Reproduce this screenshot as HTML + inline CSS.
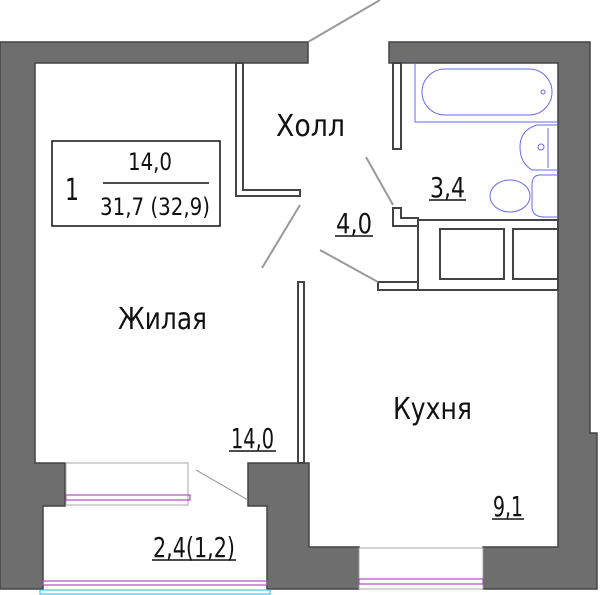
<!DOCTYPE html>
<html><head><meta charset="utf-8"><style>
html,body{margin:0;padding:0;background:#fff;}
svg{display:block}
text{font-family:"DejaVu Sans Condensed","Liberation Sans",sans-serif;fill:#111}
</style></head><body>
<svg width="600" height="595" viewBox="0 0 600 595" xmlns="http://www.w3.org/2000/svg">
<g fill="#6e6e6e" stroke="#444" stroke-width="1.5">
<path d="M0,42 H308 V63 H35 V463 H65 V506 H43 V589 H0 Z"/>
<path d="M389,42 H590 V433 H597 V589 H483 V547 H558 V63 H389 Z"/>
<path d="M248,463 H300 V463 H309 V547 H359 V589 H267 V506 H248 Z"/>
</g>
<g fill="#fff" stroke="#444" stroke-width="2">
<path d="M236,63 V196 H300 V190 H243 V63 Z"/>
<path d="M298,282 H304 V463 H298 Z"/>
<rect x="393" y="63" width="8" height="86"/>
<path d="M393,208 H401 V218 H418 V226 H393 Z"/>
<path d="M378,282 H418 V290 H378 Z"/>
<path d="M418,220 H558 V290 H418 Z"/>
<rect x="440" y="229" width="64" height="50"/>
<rect x="513" y="229" width="45" height="50"/>
</g>
<g stroke="#999" stroke-width="2" fill="none">
<line x1="308" y1="42" x2="380" y2="0"/>
<line x1="300" y1="205" x2="262" y2="268"/>
<line x1="366" y1="157" x2="393" y2="205"/>
<line x1="320" y1="250" x2="378" y2="282"/>
</g>
<line x1="196" y1="470" x2="248" y2="500" stroke="#888" stroke-width="1"/>
<rect x="66" y="463" width="122" height="42" fill="#fff" stroke="#aaa"/>
<rect x="66" y="495" width="124" height="5" fill="none" stroke="#b04cc0" stroke-width="1.2"/>
<rect x="43" y="581" width="224" height="4" fill="none" stroke="#b04cc0" stroke-width="1.2"/>
<rect x="40" y="590" width="230" height="4" fill="none" stroke="#3cc8f0" stroke-width="1.2"/>
<rect x="359" y="548" width="124" height="41" fill="#fff" stroke="#aaa"/>
<rect x="359" y="579" width="124" height="5" fill="none" stroke="#b04cc0" stroke-width="1.2"/>
<g fill="none" stroke="#6a6af0" stroke-width="1">
<path d="M415,63 V122 H557"/>
<rect x="422" y="69" width="130" height="46" rx="23"/>
<circle cx="543" cy="92" r="2"/>
<path d="M557,125 H537 Q520,130 520,147 Q520,163 532,170 H557"/>
<path d="M548,128 V168"/>
<circle cx="541" cy="147" r="3"/>
<path d="M557,175 H540 Q532,175 532,185 V207 Q532,217 545,217 H557"/>
<ellipse cx="510" cy="196" rx="20" ry="16"/>
</g>
<rect x="52" y="141" width="168" height="85" fill="#fff" stroke="#111" stroke-width="1.5"/>
<text x="65" y="200" font-size="30" textLength="14" lengthAdjust="spacingAndGlyphs">1</text>
<text x="128" y="170" font-size="24" textLength="44" lengthAdjust="spacingAndGlyphs">14,0</text>
<line x1="103" y1="183" x2="209" y2="183" stroke="#111" stroke-width="1.5"/>
<text x="100" y="215" font-size="24" textLength="110" lengthAdjust="spacingAndGlyphs">31,7 (32,9)</text>
<text x="276" y="136" font-size="30" textLength="69" lengthAdjust="spacingAndGlyphs">Холл</text>
<text x="118" y="329" font-size="30" textLength="89" lengthAdjust="spacingAndGlyphs">Жилая</text>
<text x="393" y="419" font-size="30" textLength="79" lengthAdjust="spacingAndGlyphs">Кухня</text>
<g font-size="28">
<text x="430" y="197" textLength="35" lengthAdjust="spacingAndGlyphs">3,4</text><line x1="429" y1="200" x2="466" y2="200" stroke="#111" stroke-width="1.5"/>
<text x="336" y="233" textLength="36" lengthAdjust="spacingAndGlyphs">4,0</text><line x1="335" y1="236" x2="373" y2="236" stroke="#111" stroke-width="1.5"/>
<text x="231" y="448" textLength="43" lengthAdjust="spacingAndGlyphs">14,0</text><line x1="229" y1="451" x2="276" y2="451" stroke="#111" stroke-width="1.5"/>
<text x="493" y="516" textLength="30" lengthAdjust="spacingAndGlyphs">9,1</text><line x1="492" y1="519" x2="524" y2="519" stroke="#111" stroke-width="1.5"/>
<text x="153" y="557" textLength="82" lengthAdjust="spacingAndGlyphs">2,4(1,2)</text><line x1="152" y1="560" x2="236" y2="560" stroke="#111" stroke-width="1.5"/>
</g>
</svg>
</body></html>
